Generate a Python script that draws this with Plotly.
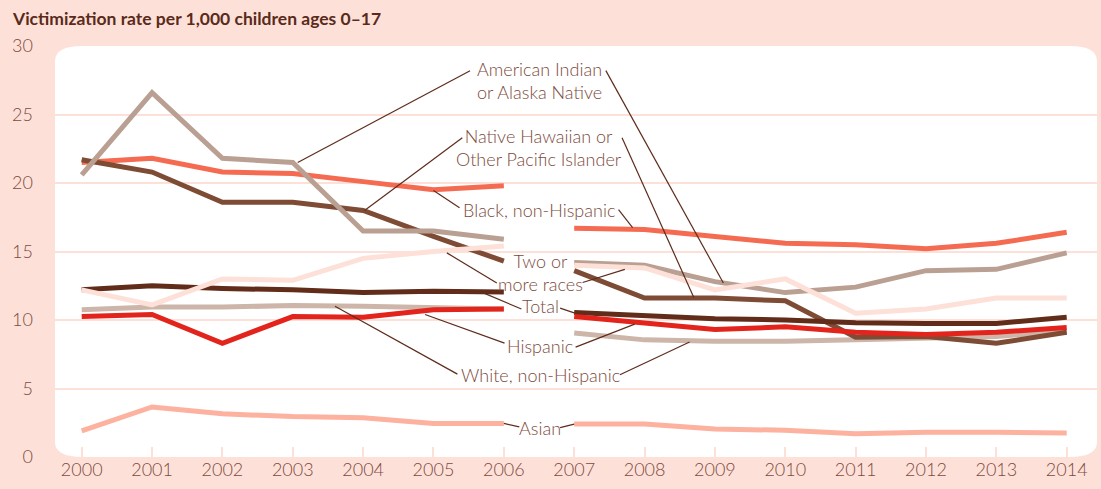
import plotly.graph_objects as go

years = list(range(2000, 2015))
black = [21.5, 21.8, 20.8, 20.7, 20.1, 19.5, 19.8, 16.7, 16.6, 16.1, 15.6, 15.5, 15.2, 15.6, 16.4]
aian = [20.6, 26.6, 21.8, 21.5, 16.5, 16.5, 15.9, 14.2, 14.0, 12.8, 12.0, 12.4, 13.6, 13.7, 14.9]
nhpi = [21.7, 20.8, 18.6, 18.6, 18.0, 16.1, 14.3, 13.6, 11.6, 11.6, 11.4, 8.75, 8.8, 8.3, 9.1]
two_more = [12.2, 11.1, 13.0, 12.9, 14.5, 15.0, 15.4, 14.0, 13.8, 12.2, 13.0, 10.5, 10.8, 11.6, 11.6]
total = [12.2, 12.5, 12.3, 12.2, 12.0, 12.1, 12.05, 10.55, 10.35, 10.1, 10.0, 9.8, 9.75, 9.75, 10.2]
white = [10.75, 10.95, 10.95, 11.05, 11.0, 10.9, 10.8, 9.05, 8.55, 8.45, 8.45, 8.55, 8.65, 8.8, 9.2]
hispanic = [10.25, 10.4, 8.3, 10.25, 10.2, 10.75, 10.8, 10.25, 9.8, 9.3, 9.5, 9.1, 8.95, 9.1, 9.45]
asian = [1.9, 3.65, 3.15, 2.95, 2.87, 2.45, 2.45, 2.4, 2.4, 2.05, 1.95, 1.7, 1.8, 1.8, 1.75]

y_ticks = [0, 5, 10, 15, 20, 25, 30]
title_text = "Victimization rate per 1,000 children ages 0–17"

PINK = "#fde1d9"
LEAD = "#5e2c1c"
TXT = "#7d4a3c"

series = [
    ("Asian", asian, "#fdb19f"),
    ("White, non-Hispanic", white, "#cdb6a9"),
    ("Black, non-Hispanic", black, "#f56b51"),
    ("Native Hawaiian or Other Pacific Islander", nhpi, "#7e4b34"),
    ("American Indian or Alaska Native", aian, "#b9a092"),
    ("Total", total, "#612c19"),
    ("Hispanic", hispanic, "#e3241c"),
    ("Two or more races", two_more, "#fde0d8"),
]

fig = go.Figure()
for name, vals, col in series:
    xs = years[:7] + [None] + years[7:]
    ys = vals[:7] + [None] + vals[7:]
    fig.add_trace(go.Scatter(x=xs, y=ys, mode="lines", name=name,
                             line=dict(color=col, width=5), connectgaps=False,
                             showlegend=False, hoverinfo="skip"))

# labels: text, x, y, leaders
labels = [
    ("American Indian<br>or Alaska Native", 2006.5, 27.5,
     [((2005.52, 28.2), (2003.07, 21.5)), ((2007.45, 28.2), (2009.12, 12.7))]),
    ("Native Hawaiian or<br>Other Pacific Islander", 2006.5, 22.6,
     [((2005.41, 23.3), (2004.02, 18.0)), ((2007.68, 23.3), (2008.7, 11.65))]),
    ("Black, non-Hispanic", 2006.5, 18.0,
     [((2005.0, 19.45), (2005.37, 18.2)), ((2007.63, 18.05), (2007.83, 16.75))]),
    ("Two or<br>more races", 2006.52, 13.48,
     [((2005.19, 14.9), (2005.9, 12.7)), ((2007.12, 12.74), (2007.72, 13.7))]),
    ("Total", 2006.52, 11.0,
     [((2005.7, 12.0), (2006.25, 10.8)), ((2006.8, 10.87), (2007.01, 10.5))]),
    ("Hispanic", 2006.52, 8.1,
     [((2004.88, 10.4), (2006.01, 8.31)), ((2007.02, 8.02), (2007.86, 9.7))]),
    ("White, non-Hispanic", 2006.52, 5.95,
     [((2003.6, 11.0), (2005.34, 6.05)), ((2007.65, 6.0), (2008.64, 8.4))]),
    ("Asian", 2006.52, 2.15,
     [((2006.0, 2.45), (2006.22, 2.2)), ((2006.8, 2.15), (2007.0, 2.4))]),
]

W, H = 1101, 489
ml, mr, mt, mb = 55, 4, 46, 32
pw, ph = W - ml - mr, H - mt - mb
rx, ry = 28 / pw, 15 / ph
path = (f"M {rx},1 L {1-rx},1 Q 1,1 1,{1-ry} L 1,{ry} Q 1,0 {1-rx},0 "
        f"L {rx},0 Q 0,0 0,{ry} L 0,{1-ry} Q 0,1 {rx},1 Z")

shapes = [dict(type="path", xref="paper", yref="paper", path=path,
               fillcolor="white", line=dict(width=0), layer="below")]
annotations = []
for text, lx, ly, leaders in labels:
    annotations.append(dict(x=lx, y=ly, xref="x", yref="y", text=text, showarrow=False,
                            align="center", font=dict(size=18, color=TXT, family="Lato", weight=300)))
    for (x0, y0), (x1, y1) in leaders:
        shapes.append(dict(type="line", xref="x", yref="y", x0=x0, y0=y0, x1=x1, y1=y1,
                           line=dict(color=LEAD, width=1.2), layer="above"))

annotations.append(dict(xref="paper", yref="paper", x=-(ml - 10) / pw, y=1 + (mt - 18) / ph,
                        text=f"<b>{title_text}</b>", showarrow=False,
                        xanchor="left", yanchor="middle",
                        font=dict(size=17.5, color="#5a2a1a", family="Lato")))

# x range so that 2000 sits at ~82px and 2014 at ~1067px
px_per_year = (1066.7 - 81.7) / 14
x0r = 2000 - (81.7 - ml) / px_per_year
x1r = 2014 + (W - mr - 1066.7) / px_per_year

fig.update_layout(
    width=W, height=H, autosize=False,
    margin=dict(l=ml, r=mr, t=mt, b=mb, pad=0),
    paper_bgcolor=PINK, plot_bgcolor="rgba(0,0,0,0)",
    shapes=shapes, annotations=annotations,
    xaxis=dict(range=[x0r, x1r], tickvals=years, ticktext=[str(y) for y in years],
               showgrid=False, zeroline=False, showline=False,
               ticks="inside", ticklen=10, tickwidth=2, tickcolor=PINK,
               tickfont=dict(size=18, color=TXT, family="Lato", weight=300)),
    yaxis=dict(range=[0, 30], tickvals=y_ticks, showgrid=True, gridcolor=PINK, gridwidth=2,
               zeroline=False, showline=False, ticks="", ticklabelstandoff=21,
               tickfont=dict(size=18, color=TXT, family="Lato", weight=300)),
)

fig.write_html("out.html", config={"displayModeBar": False},
               post_script="document.body.style.margin='0';document.body.style.overflow='hidden';")
